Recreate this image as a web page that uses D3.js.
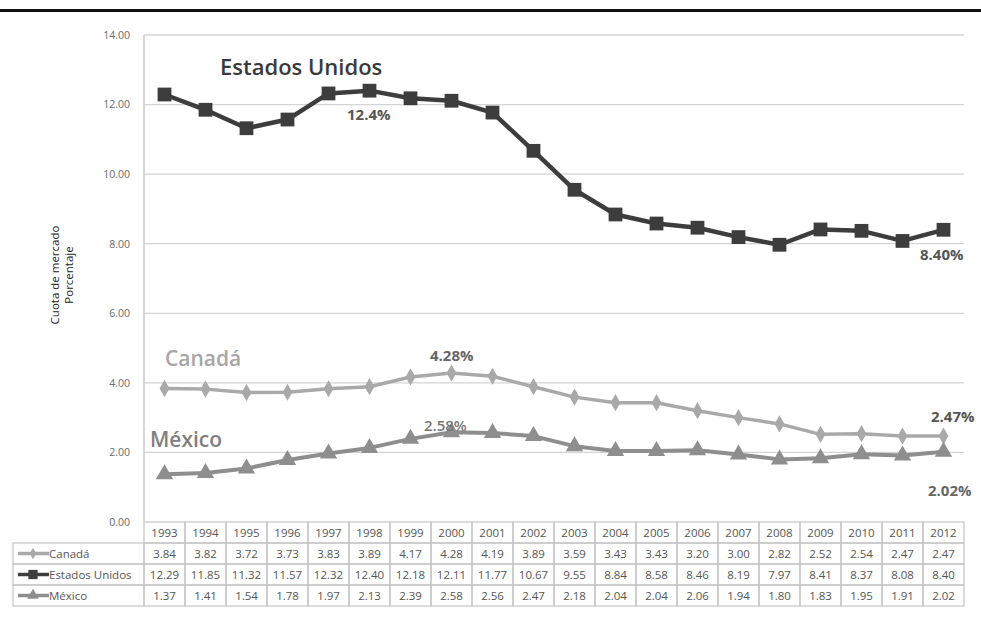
<!DOCTYPE html>
<html><head><meta charset="utf-8">
<script src="https://cdn.jsdelivr.net/npm/d3@7"></script>
<style>
html,body{margin:0;padding:0;background:#fff;}
svg{display:block;font-family:"Open Sans",sans-serif;}
</style></head>
<body><svg id="c" width="981" height="641"></svg>
<script>
const years = ["1993","1994","1995","1996","1997","1998","1999","2000","2001","2002","2003","2004","2005","2006","2007","2008","2009","2010","2011","2012"];
const canada = [3.84,3.82,3.72,3.73,3.83,3.89,4.17,4.28,4.19,3.89,3.59,3.43,3.43,3.20,3.00,2.82,2.52,2.54,2.47,2.47];
const estadosUnidos = [12.29,11.85,11.32,11.57,12.32,12.40,12.18,12.11,11.77,10.67,9.55,8.84,8.58,8.46,8.19,7.97,8.41,8.37,8.08,8.40];
const mexico = [1.37,1.41,1.54,1.78,1.97,2.13,2.39,2.58,2.56,2.47,2.18,2.04,2.04,2.06,1.94,1.80,1.83,1.95,1.91,2.02];
const yTicks = [0,2,4,6,8,10,12,14];
const seriesNames = ["Canadá","Estados Unidos","México"];

const svg = d3.select("#c");
const L = 144, R = 964, T = 35, B = 522;
const x = d3.scaleBand().domain(years).range([L, R]);
const y = d3.scaleLinear().domain([0, 14]).range([B, T]);
const cx = d => x(d) + x.bandwidth() / 2;

// top rule
svg.append("rect").attr("x", 0).attr("y", 9).attr("width", 981).attr("height", 3).attr("fill", "#111");

// gridlines
svg.append("g").selectAll("line").data(yTicks.filter(t => t > 0)).join("line")
  .attr("x1", L).attr("x2", R).attr("y1", d => y(d)).attr("y2", d => y(d))
  .attr("stroke", "#d4d4d4").attr("stroke-width", 1.3);
svg.append("line").attr("x1", L).attr("x2", L).attr("y1", T).attr("y2", B)
  .attr("stroke", "#c8c8c8").attr("stroke-width", 1.5);

// y axis labels
const yAxis = d3.axisLeft(y).tickValues(yTicks).tickFormat(d3.format(".2f")).tickSize(0).tickPadding(14);
const ga = svg.append("g").attr("transform", `translate(${L},0)`).call(yAxis);
ga.select(".domain").remove();
ga.selectAll("text").attr("fill", "#6a6a6a").attr("font-size", 10.5).attr("font-family", "Open Sans, sans-serif");

// y title
const yt = svg.append("text").attr("transform", "translate(59,275) rotate(-90)")
  .attr("text-anchor", "middle").attr("font-size", 11.5).attr("fill", "#222");
yt.append("tspan").attr("x", 0).attr("dy", 0).text("Cuota de mercado");
yt.append("tspan").attr("x", 0).attr("dy", 14).text("Porcentaje");

const styles = [
  {data: canada, color: "#a9a9a9", shape: d3.symbolDiamond, size: 85, w: 3.5},
  {data: estadosUnidos, color: "#3d3d3d", shape: d3.symbolSquare, size: 190, w: 4.5},
  {data: mexico, color: "#8e8e8e", shape: d3.symbolTriangle, size: 130, w: 4}
];

const line = d3.line().x((d, i) => cx(years[i])).y(d => y(d));
styles.forEach(s => {
  svg.append("path").datum(s.data).attr("d", line).attr("fill", "none")
    .attr("stroke", s.color).attr("stroke-width", s.w).attr("stroke-linejoin", "round");
  svg.append("g").selectAll("path").data(s.data).join("path")
    .attr("d", d3.symbol().type(s.shape).size(s.size))
    .attr("transform", (d, i) => `translate(${cx(years[i])},${y(d)})`)
    .attr("fill", s.color);
});

// annotations
function ann(t, xx, yy, size, color, weight) {
  svg.append("text").attr("x", xx).attr("y", yy).attr("font-size", size)
    .attr("fill", color).attr("font-weight", weight).text(t);
}
ann("Estados Unidos", 220, 75, 22, "#3a3a3a", 600);
ann("12.4%", 347, 120, 15, "#555", 700);
ann("8.40%", 920, 260, 15, "#555", 700);
ann("Canadá", 165, 366, 21, "#a6a6a6", 600);
ann("4.28%", 430, 361, 15, "#666", 700);
ann("México", 150, 447, 21, "#7f7f7f", 600);
ann("2.58%", 424, 431, 15, "#777", 600);
ann("2.47%", 931, 422, 15, "#555", 700);
ann("2.02%", 928, 496, 15, "#666", 700);

// data table
const rowH = 21, tableTop = B, labelL = 13;
const tg = svg.append("g");
const gridC = "#c4c4c4";
const fs = 11.5;
years.forEach(yr => {
  tg.append("rect").attr("x", x(yr)).attr("y", tableTop).attr("width", x.bandwidth()).attr("height", rowH)
    .attr("fill", "none").attr("stroke", gridC).attr("stroke-width", 1.2);
  tg.append("text").attr("x", cx(yr)).attr("y", tableTop + 15).attr("text-anchor", "middle")
    .attr("font-size", fs).attr("fill", "#555").text(yr);
});
styles.forEach((s, r) => {
  const ry = tableTop + rowH * (r + 1);
  tg.append("rect").attr("x", labelL).attr("y", ry).attr("width", L - labelL).attr("height", rowH)
    .attr("fill", "none").attr("stroke", gridC).attr("stroke-width", 1.2);
  tg.append("line").attr("x1", 18).attr("x2", 49).attr("y1", ry + rowH / 2).attr("y2", ry + rowH / 2)
    .attr("stroke", s.color).attr("stroke-width", 3.5);
  tg.append("path").attr("d", d3.symbol().type(s.shape).size(s.size * 0.45))
    .attr("transform", `translate(33,${ry + rowH / 2})`).attr("fill", s.color);
  tg.append("text").attr("x", 49).attr("y", ry + 15).attr("font-size", fs).attr("fill", "#555").text(seriesNames[r]);
  s.data.forEach((v, i) => {
    tg.append("rect").attr("x", x(years[i])).attr("y", ry).attr("width", x.bandwidth()).attr("height", rowH)
      .attr("fill", "none").attr("stroke", gridC).attr("stroke-width", 1.2);
    tg.append("text").attr("x", cx(years[i])).attr("y", ry + 15).attr("text-anchor", "middle")
      .attr("font-size", fs).attr("fill", "#555").text(v.toFixed(2));
  });
});
</script></body></html>
